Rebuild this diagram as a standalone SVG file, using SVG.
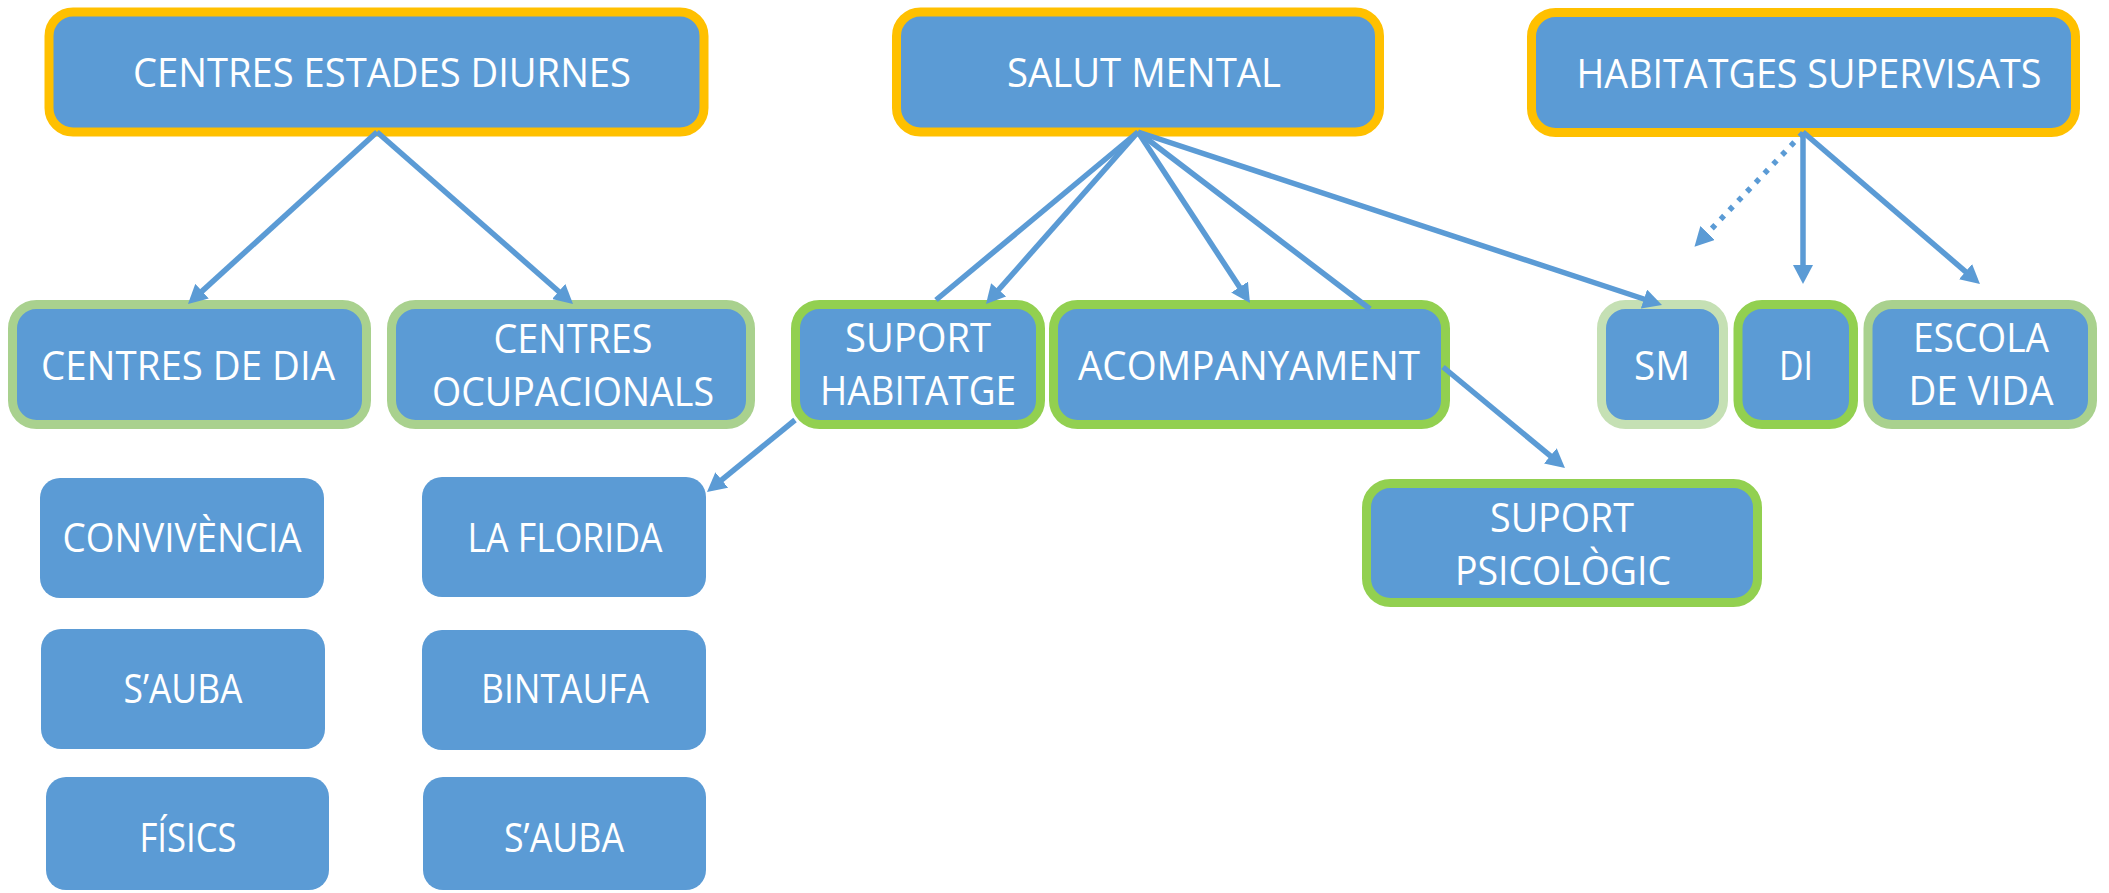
<svg xmlns="http://www.w3.org/2000/svg" width="2109" height="893" viewBox="0 0 2109 893">
<style>
.box{fill:#5B9BD5}
.y{stroke:#FFC000;stroke-width:9}
.g{stroke:#92D050;stroke-width:9}
.lg{stroke:#A9D18E;stroke-width:9}
.xg{stroke:#C5E0B4;stroke-width:9}
.t{fill:#FFFFFF;font-family:"Open Sans","Liberation Sans",sans-serif;font-size:39.5px;text-anchor:middle}
.c{fill:none;stroke:#5B9BD5;stroke-width:5.5}
.d{stroke-dasharray:5 7.7}
</style>
<defs>
<marker id="ah" markerUnits="userSpaceOnUse" markerWidth="20" markerHeight="20" viewBox="0 0 20 20" refX="11" refY="10" orient="auto">
<path d="M0,0 L19,10 L0,20 z" fill="#5B9BD5"/>
</marker>
</defs>
<rect width="2109" height="893" fill="#FFFFFF"/>
<g id="n-ced"><rect class="box y" x="49" y="12" width="655" height="120" rx="24"/><text class="t" x="382" y="87" textLength="498" lengthAdjust="spacingAndGlyphs">CENTRES ESTADES DIURNES</text></g>
<g id="n-sm-top"><rect class="box y" x="896.5" y="12" width="483" height="120" rx="24"/><text class="t" x="1144" y="87" textLength="274" lengthAdjust="spacingAndGlyphs">SALUT MENTAL</text></g>
<g id="n-hs"><rect class="box y" x="1531.5" y="12.5" width="544" height="120" rx="24"/><text class="t" x="1809" y="88" textLength="465" lengthAdjust="spacingAndGlyphs">HABITATGES SUPERVISATS</text></g>
<g id="n-cdd"><rect class="box lg" x="12.5" y="304.5" width="354" height="120" rx="24"/><text class="t" x="188" y="380" textLength="294" lengthAdjust="spacingAndGlyphs">CENTRES DE DIA</text></g>
<g id="n-co"><rect class="box lg" x="391.5" y="304.5" width="359" height="120" rx="24"/><text class="t" x="573" y="353" textLength="159" lengthAdjust="spacingAndGlyphs">CENTRES</text><text class="t" x="573" y="406" textLength="282" lengthAdjust="spacingAndGlyphs">OCUPACIONALS</text></g>
<g id="n-sh"><rect class="box g" x="795.5" y="304.5" width="245" height="120" rx="24"/><text class="t" x="918" y="352" textLength="146" lengthAdjust="spacingAndGlyphs">SUPORT</text><text class="t" x="918" y="405" textLength="196" lengthAdjust="spacingAndGlyphs">HABITATGE</text></g>
<g id="n-acomp"><rect class="box g" x="1053.5" y="304.5" width="392" height="120" rx="24"/><text class="t" x="1249" y="380" textLength="342" lengthAdjust="spacingAndGlyphs">ACOMPANYAMENT</text></g>
<g id="n-sm"><rect class="box xg" x="1601.5" y="304.5" width="122" height="120" rx="24"/><text class="t" x="1662" y="380" textLength="56" lengthAdjust="spacingAndGlyphs">SM</text></g>
<g id="n-di"><rect class="box g" x="1738" y="304.5" width="115.5" height="120" rx="24"/><text class="t" x="1796" y="380" textLength="34" lengthAdjust="spacingAndGlyphs">DI</text></g>
<g id="n-ev"><rect class="box lg" x="1868" y="304.5" width="224.5" height="120" rx="24"/><text class="t" x="1981" y="352" textLength="136" lengthAdjust="spacingAndGlyphs">ESCOLA</text><text class="t" x="1981" y="405" textLength="145" lengthAdjust="spacingAndGlyphs">DE VIDA</text></g>
<g id="n-sp"><rect class="box g" x="1366.5" y="483.5" width="391" height="119" rx="24"/><text class="t" x="1562" y="532" textLength="144" lengthAdjust="spacingAndGlyphs">SUPORT</text><text class="t" x="1563" y="585" textLength="216" lengthAdjust="spacingAndGlyphs">PSICOLÒGIC</text></g>
<g id="n-conv"><rect class="box" x="40" y="478" width="284" height="120" rx="20"/><text class="t" x="182" y="552" textLength="239" lengthAdjust="spacingAndGlyphs">CONVIVÈNCIA</text></g>
<g id="n-saubaL"><rect class="box" x="41" y="629" width="284" height="120" rx="20"/><text class="t" x="183" y="703" textLength="119" lengthAdjust="spacingAndGlyphs">S’AUBA</text></g>
<g id="n-fisics"><rect class="box" x="46" y="777" width="283" height="113" rx="20"/><text class="t" x="188" y="852" textLength="97" lengthAdjust="spacingAndGlyphs">FÍSICS</text></g>
<g id="n-florida"><rect class="box" x="422" y="477" width="284" height="120" rx="20"/><text class="t" x="565" y="552" textLength="195" lengthAdjust="spacingAndGlyphs">LA FLORIDA</text></g>
<g id="n-bintaufa"><rect class="box" x="422" y="630" width="284" height="120" rx="20"/><text class="t" x="565" y="703" textLength="168" lengthAdjust="spacingAndGlyphs">BINTAUFA</text></g>
<g id="n-saubaR"><rect class="box" x="423" y="777" width="283" height="113" rx="20"/><text class="t" x="564" y="852" textLength="120" lengthAdjust="spacingAndGlyphs">S’AUBA</text></g>
<g id="connectors">
<line class="c" x1="377" y1="132" x2="193.9" y2="298.6" marker-end="url(#ah)"/>
<line class="c" x1="377" y1="132" x2="567" y2="298.7" marker-end="url(#ah)"/>
<line class="c" x1="1138" y1="132" x2="991.3" y2="298" marker-end="url(#ah)"/>
<line class="c" x1="1138" y1="132" x2="936" y2="300"/>
<line class="c" x1="795" y1="420" x2="713.2" y2="486.9" marker-end="url(#ah)"/>
<line class="c" x1="1138" y1="132" x2="1245.6" y2="296.3" marker-end="url(#ah)"/>
<line class="c" x1="1138" y1="132" x2="1370" y2="309"/>
<line class="c" x1="1443" y1="367" x2="1558.8" y2="462.9" marker-end="url(#ah)"/>
<line class="c" x1="1138" y1="132" x2="1654.4" y2="302.5" marker-end="url(#ah)"/>
<line class="c d" x1="1803" y1="133" x2="1700" y2="240.9" marker-end="url(#ah)"/>
<line class="c" x1="1803" y1="132" x2="1803" y2="276" marker-end="url(#ah)"/>
<line class="c" x1="1803" y1="132" x2="1973.9" y2="278.8" marker-end="url(#ah)"/>
</g>
</svg>
